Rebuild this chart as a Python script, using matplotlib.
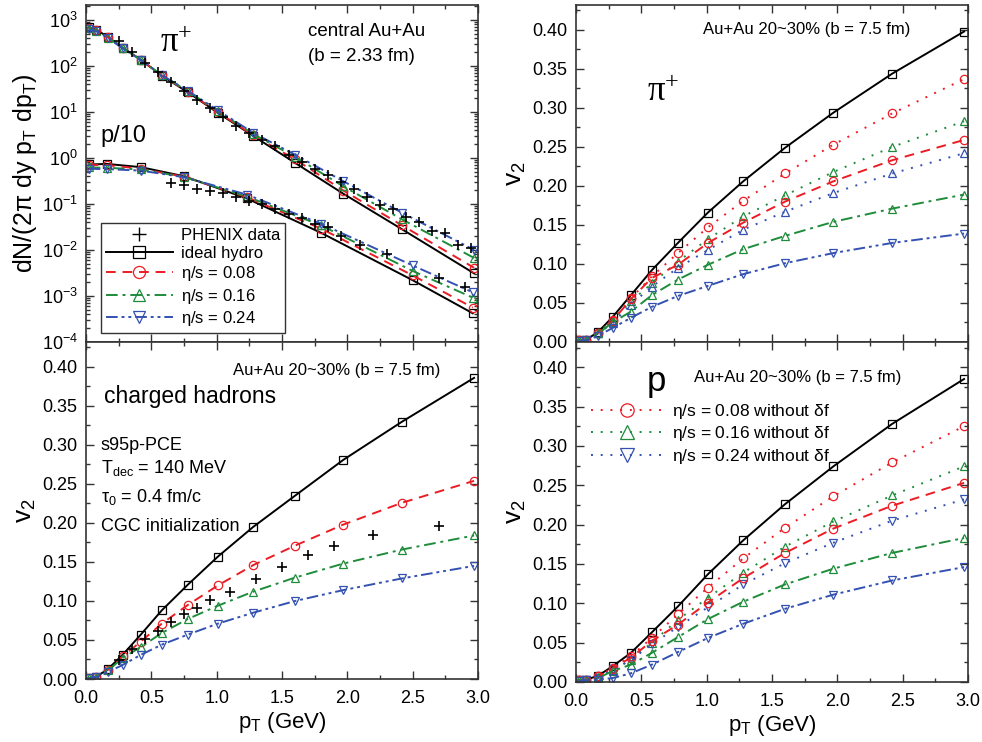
import matplotlib
matplotlib.use('Agg')
import matplotlib.pyplot as plt
from matplotlib.ticker import MultipleLocator, FormatStrFormatter, LogLocator
from matplotlib.lines import Line2D

plt.rcParams['font.family'] = ['Liberation Sans', 'DejaVu Sans']
plt.rcParams['mathtext.fontset'] = 'custom'
plt.rcParams['mathtext.rm'] = 'Liberation Sans'
plt.rcParams['mathtext.it'] = 'Liberation Sans:italic'
plt.rcParams['mathtext.default'] = 'regular'

# ---- data ----
pt_model = [0.02, 0.08, 0.17, 0.28, 0.42, 0.58, 0.78, 1.01, 1.28, 1.60, 1.97, 2.42, 2.97]

# pi+ spectra (central)
pi_ideal = [690, 610, 420, 250, 135, 61, 26.6, 9.5, 3.0, 0.78, 0.166, 0.028, 0.0031]
pi_008 = [680, 600, 415, 250, 135, 62, 27, 9.8, 3.1, 0.93, 0.195, 0.034, 0.0041]
pi_016 = [650, 580, 410, 245, 135, 63, 28, 10.3, 3.3, 1.05, 0.24, 0.046, 0.0067]
pi_024 = [620, 560, 400, 240, 133, 63, 28.5, 10.8, 3.5, 1.17, 0.31, 0.064, 0.010]

# proton/10 spectra
pt_p = [0.02, 0.16, 0.42, 0.75, 1.23, 1.80, 2.50, 2.96]
p_ideal = [0.72, 0.74, 0.63, 0.40, 0.132, 0.0235, 0.0022, 0.00042]
p_008 = [0.70, 0.70, 0.58, 0.39, 0.14, 0.029, 0.0028, 0.00056]
p_016 = [0.62, 0.61, 0.56, 0.385, 0.145, 0.034, 0.0035, 0.00092]
p_024 = [0.58, 0.57, 0.53, 0.38, 0.16, 0.037, 0.0046, 0.0012]

# PHENIX spectra
pt_pi_data = [0.25, 0.35, 0.45, 0.55, 0.65, 0.75, 0.85, 0.95, 1.05, 1.15, 1.25, 1.35, 1.45, 1.55,
              1.65, 1.75, 1.85, 1.95, 2.05, 2.15, 2.25, 2.35, 2.45, 2.55, 2.65, 2.75, 2.85, 2.95]
pi_data = [355, 200, 115, 72, 45, 28, 18, 12, 7.8, 5.0, 3.5, 2.5, 1.8, 1.15,
           0.80, 0.56, 0.42, 0.30, 0.21, 0.14, 0.095, 0.076, 0.052, 0.040, 0.026, 0.023, 0.013, 0.011]
pt_p_data = [0.65, 0.75, 0.85, 0.95, 1.05, 1.15, 1.25, 1.35, 1.45, 1.55, 1.65, 1.75, 1.85, 1.95,
             2.10, 2.30, 2.70, 2.90]
p_data = [0.29, 0.26, 0.215, 0.195, 0.17, 0.145, 0.115, 0.098, 0.076, 0.060, 0.050, 0.036, 0.031, 0.020,
          0.013, 0.0080, 0.0025, 0.0016]

# v2 pi+
v2pi_ideal = [0.002, 0.003, 0.013, 0.032, 0.060, 0.092, 0.127, 0.166, 0.206, 0.249, 0.294, 0.344, 0.398]
v2pi_008_nodf = [0.002, 0.003, 0.012, 0.028, 0.056, 0.084, 0.114, 0.147, 0.181, 0.216, 0.253, 0.293, 0.337]
v2pi_008 = [0.002, 0.003, 0.012, 0.027, 0.055, 0.082, 0.099, 0.127, 0.153, 0.180, 0.206, 0.233, 0.259]
v2pi_016_nodf = [0.002, 0.003, 0.012, 0.027, 0.052, 0.075, 0.103, 0.132, 0.161, 0.188, 0.218, 0.250, 0.283]
v2pi_016 = [0.002, 0.003, 0.011, 0.025, 0.039, 0.060, 0.080, 0.099, 0.119, 0.136, 0.154, 0.171, 0.189]
v2pi_024_nodf = [0.002, 0.003, 0.011, 0.024, 0.048, 0.071, 0.095, 0.118, 0.144, 0.167, 0.191, 0.216, 0.242]
v2pi_024 = [0.001, 0.002, 0.008, 0.018, 0.031, 0.045, 0.059, 0.072, 0.087, 0.101, 0.114, 0.127, 0.139]

# v2 charged hadrons
v2ch_ideal = [0.001, 0.003, 0.013, 0.031, 0.057, 0.088, 0.121, 0.157, 0.195, 0.235, 0.281, 0.330, 0.386]
v2ch_008 = [0.001, 0.003, 0.012, 0.029, 0.048, 0.071, 0.095, 0.120, 0.146, 0.171, 0.198, 0.226, 0.254]
v2ch_016 = [0.001, 0.003, 0.011, 0.027, 0.041, 0.059, 0.077, 0.094, 0.112, 0.130, 0.148, 0.166, 0.184]
v2ch_024 = [0.001, 0.002, 0.009, 0.018, 0.031, 0.044, 0.057, 0.071, 0.085, 0.100, 0.114, 0.129, 0.145]
pt_ch_data = [0.25, 0.35, 0.45, 0.55, 0.65, 0.75, 0.85, 0.95, 1.10, 1.30, 1.50, 1.70, 1.90, 2.20, 2.70]
v2ch_data = [0.024, 0.038, 0.051, 0.062, 0.073, 0.083, 0.091, 0.101, 0.112, 0.128, 0.144, 0.159, 0.171, 0.184, 0.196]

# v2 protons
v2p_ideal = [0.002, 0.003, 0.008, 0.020, 0.037, 0.063, 0.096, 0.137, 0.180, 0.226, 0.274, 0.328, 0.385]
v2p_008_nodf = [0.002, 0.003, 0.007, 0.018, 0.033, 0.056, 0.086, 0.120, 0.157, 0.196, 0.236, 0.279, 0.325]
v2p_008 = [0.002, 0.003, 0.007, 0.017, 0.031, 0.052, 0.073, 0.101, 0.132, 0.164, 0.195, 0.224, 0.253]
v2p_016_nodf = [0.002, 0.003, 0.006, 0.015, 0.028, 0.050, 0.079, 0.107, 0.139, 0.172, 0.204, 0.237, 0.274]
v2p_016 = [0.002, 0.002, 0.005, 0.014, 0.022, 0.037, 0.057, 0.080, 0.102, 0.124, 0.144, 0.164, 0.183]
v2p_024_nodf = [0.002, 0.002, 0.005, 0.016, 0.028, 0.048, 0.070, 0.095, 0.124, 0.151, 0.177, 0.205, 0.232]
v2p_024 = [0.001, 0.002, 0.003, 0.005, 0.011, 0.022, 0.038, 0.056, 0.074, 0.093, 0.111, 0.129, 0.146]

RED = '#ec1c24'
GREEN = '#1e8c3a'
BLUE = '#3451b2'
LS_SOLID = '-'
LS_DASH = (0, (5, 3.5))
LS_DASHDOT = (0, (6, 2.5, 1.5, 2.5))
LS_DASHDOTDOT = (0, (6, 2, 1.5, 2, 1.5, 2))
LS_DOT = (0, (1, 4))
MS = 6

W, H = 982, 742
fig = plt.figure(figsize=(W / 100, H / 100), dpi=100)


def px_axes(left, top, right, bottom):
    return fig.add_axes([left / W, 1 - bottom / H, (right - left) / W, (bottom - top) / H])


def style(ax, v2=True, xlabels=True):
    ax.set_xlim(0, 3.0)
    ax.xaxis.set_major_locator(MultipleLocator(0.5))
    ax.xaxis.set_minor_locator(MultipleLocator(0.25))
    ax.xaxis.set_major_formatter(FormatStrFormatter('%.1f'))
    if v2:
        ax.set_ylim(0, 0.432)
        ax.yaxis.set_major_locator(MultipleLocator(0.05))
        ax.yaxis.set_minor_locator(MultipleLocator(0.025))
        ax.yaxis.set_major_formatter(FormatStrFormatter('%.2f'))
        ax.set_ylabel(r'$v_2$', fontsize=19, labelpad=3)
    ax.tick_params(which='both', direction='in', top=True, right=True, labelsize=13, width=1, color='#333333')
    ax.tick_params(which='major', length=5.5)
    ax.tick_params(which='minor', length=2.8)
    ax.tick_params(axis='x', pad=8)
    ax.tick_params(axis='y', pad=6)
    for s in ax.spines.values():
        s.set_linewidth(1.2)
        s.set_color('#333333')
    if xlabels:
        ax.set_xlabel(r'$p_T$ (GeV)', fontsize=16, labelpad=2)
    else:
        ax.tick_params(labelbottom=False)


def curve(ax, y, color, ls, marker, lw=1.4, x=pt_model):
    ax.plot(x, y, color=color, linestyle=ls, lw=lw, marker=marker, ms=MS,
            mfc='none', mec=color, mew=0.9)


# ---- top left: spectra ----
ax1 = px_axes(86, 5, 478, 342)
ax1.set_yscale('log')
ax1.set_ylim(1e-4, 2.1e3)
ax1.yaxis.set_major_locator(LogLocator(base=10, numticks=10))
ax1.yaxis.set_minor_locator(LogLocator(base=10, subs=range(2, 10), numticks=20))
style(ax1, v2=False, xlabels=False)
ax1.set_ylabel(r'dN/(2$\pi$ dy $p_T$ d$p_T$)', fontsize=18, labelpad=2)
for y_pi, y_p, c, ls, m in [(pi_ideal, p_ideal, 'black', LS_SOLID, 's'),
                            (pi_008, p_008, RED, LS_DASH, 'o'),
                            (pi_016, p_016, GREEN, LS_DASHDOT, '^'),
                            (pi_024, p_024, BLUE, LS_DASHDOTDOT, 'v')]:
    curve(ax1, y_pi, c, ls, m)
    curve(ax1, y_p, c, ls, m, x=pt_p)
ax1.plot(pt_pi_data, pi_data, '+', color='black', ms=7, mew=1.2, ls='none')
ax1.plot(pt_p_data, p_data, '+', color='black', ms=7, mew=1.2, ls='none')
ax1.text(0.19, 0.885, r'$\pi^{+}$', transform=ax1.transAxes, fontsize=25, va='center',
         family='Liberation Serif')
ax1.text(0.036, 0.61, 'p/10', transform=ax1.transAxes, fontsize=17, va='center')
ax1.text(0.567, 0.92, 'central Au+Au', transform=ax1.transAxes, fontsize=13.5, va='center')
ax1.text(0.567, 0.846, '(b = 2.33 fm)', transform=ax1.transAxes, fontsize=13.5, va='center')

handles = [
    Line2D([], [], color='black', ls='none', marker='+', ms=7, mew=1.0),
    Line2D([], [], color='black', ls=LS_SOLID, lw=1.4, marker='s', ms=MS, mfc='none', mew=0.9),
    Line2D([], [], color=RED, ls=LS_DASH, lw=1.4, marker='o', ms=MS, mfc='none', mew=0.9),
    Line2D([], [], color=GREEN, ls=LS_DASHDOT, lw=1.4, marker='^', ms=MS, mfc='none', mew=0.9),
    Line2D([], [], color=BLUE, ls=LS_DASHDOTDOT, lw=1.4, marker='v', ms=MS, mfc='none', mew=0.9),
]
labels = ['PHENIX data', 'ideal hydro', r'$\eta$/s = 0.08', r'$\eta$/s = 0.16', r'$\eta$/s = 0.24']
leg = ax1.legend(handles, labels, loc='lower left', bbox_to_anchor=(0.038, 0.027), fontsize=12,
                 handlelength=4.0, markerscale=1.45, fancybox=False, edgecolor='#333333',
                 framealpha=1, borderpad=0.3, labelspacing=0.2, handletextpad=0.5, borderaxespad=0)
leg.get_frame().set_linewidth(1.0)

# ---- top right: v2 pi+ ----
ax2 = px_axes(576, 5, 968, 342)
style(ax2, xlabels=False)
curve(ax2, v2pi_ideal, 'black', LS_SOLID, 's')
curve(ax2, v2pi_008_nodf, RED, LS_DOT, 'o')
curve(ax2, v2pi_016_nodf, GREEN, LS_DOT, '^')
curve(ax2, v2pi_024_nodf, BLUE, LS_DOT, '^')
curve(ax2, v2pi_008, RED, LS_DASH, 'o')
curve(ax2, v2pi_016, GREEN, LS_DASHDOT, '^')
curve(ax2, v2pi_024, BLUE, LS_DASHDOTDOT, 'v')
ax2.text(0.324, 0.926, 'Au+Au 20~30% (b = 7.5 fm)', transform=ax2.transAxes, fontsize=12, va='center')
ax2.text(0.18, 0.74, r'$\pi^{+}$', transform=ax2.transAxes, fontsize=25, va='center',
         family='Liberation Serif')

# ---- bottom left: v2 charged hadrons ----
ax3 = px_axes(86, 342, 478, 679)
style(ax3)
curve(ax3, v2ch_ideal, 'black', LS_SOLID, 's')
curve(ax3, v2ch_008, RED, LS_DASH, 'o')
curve(ax3, v2ch_016, GREEN, LS_DASHDOT, '^')
curve(ax3, v2ch_024, BLUE, LS_DASHDOTDOT, 'v')
ax3.plot(pt_ch_data, v2ch_data, '+', color='black', ms=7, mew=1.2, ls='none')
ax3.text(0.375, 0.915, 'Au+Au 20~30% (b = 7.5 fm)', transform=ax3.transAxes, fontsize=12, va='center')
ax3.text(0.047, 0.837, 'charged hadrons', transform=ax3.transAxes, fontsize=16.5, va='center')
ax3.text(0.038, 0.694, 's95p-PCE', transform=ax3.transAxes, fontsize=13, va='center')
ax3.text(0.038, 0.626, r'T$_{dec}$ = 140 MeV', transform=ax3.transAxes, fontsize=13, va='center')
ax3.text(0.038, 0.54, r'$\tau_0$ = 0.4 fm/c', transform=ax3.transAxes, fontsize=13, va='center')
ax3.text(0.038, 0.454, 'CGC initialization', transform=ax3.transAxes, fontsize=13, va='center')

# ---- bottom right: v2 protons ----
ax4 = px_axes(576, 342, 968, 682)
style(ax4)
curve(ax4, v2p_ideal, 'black', LS_SOLID, 's')
l1, = ax4.plot(pt_model, v2p_008_nodf, color=RED, ls=LS_DOT, lw=1.4, marker='o', ms=MS, mfc='none', mew=0.9)
l2, = ax4.plot(pt_model, v2p_016_nodf, color=GREEN, ls=LS_DOT, lw=1.4, marker='^', ms=MS, mfc='none', mew=0.9)
l3, = ax4.plot(pt_model, v2p_024_nodf, color=BLUE, ls=LS_DOT, lw=1.4, marker='v', ms=MS, mfc='none', mew=0.9)
curve(ax4, v2p_008, RED, LS_DASH, 'o')
curve(ax4, v2p_016, GREEN, LS_DASHDOT, '^')
curve(ax4, v2p_024, BLUE, LS_DASHDOTDOT, 'v')
ax4.legend([l1, l2, l3], [r'$\eta$/s = 0.08 without $\delta$f', r'$\eta$/s = 0.16 without $\delta$f',
                          r'$\eta$/s = 0.24 without $\delta$f'],
           loc='upper left', bbox_to_anchor=(0.02, 0.845), frameon=False, fontsize=12.5,
           handlelength=4.2, markerscale=1.6, labelspacing=0.2, handletextpad=0.5, borderaxespad=0)
ax4.text(0.18, 0.885, 'p', transform=ax4.transAxes, fontsize=25, va='center')
ax4.text(0.30, 0.897, 'Au+Au 20~30% (b = 7.5 fm)', transform=ax4.transAxes, fontsize=12, va='center')

fig.savefig('out.png', dpi=100)
